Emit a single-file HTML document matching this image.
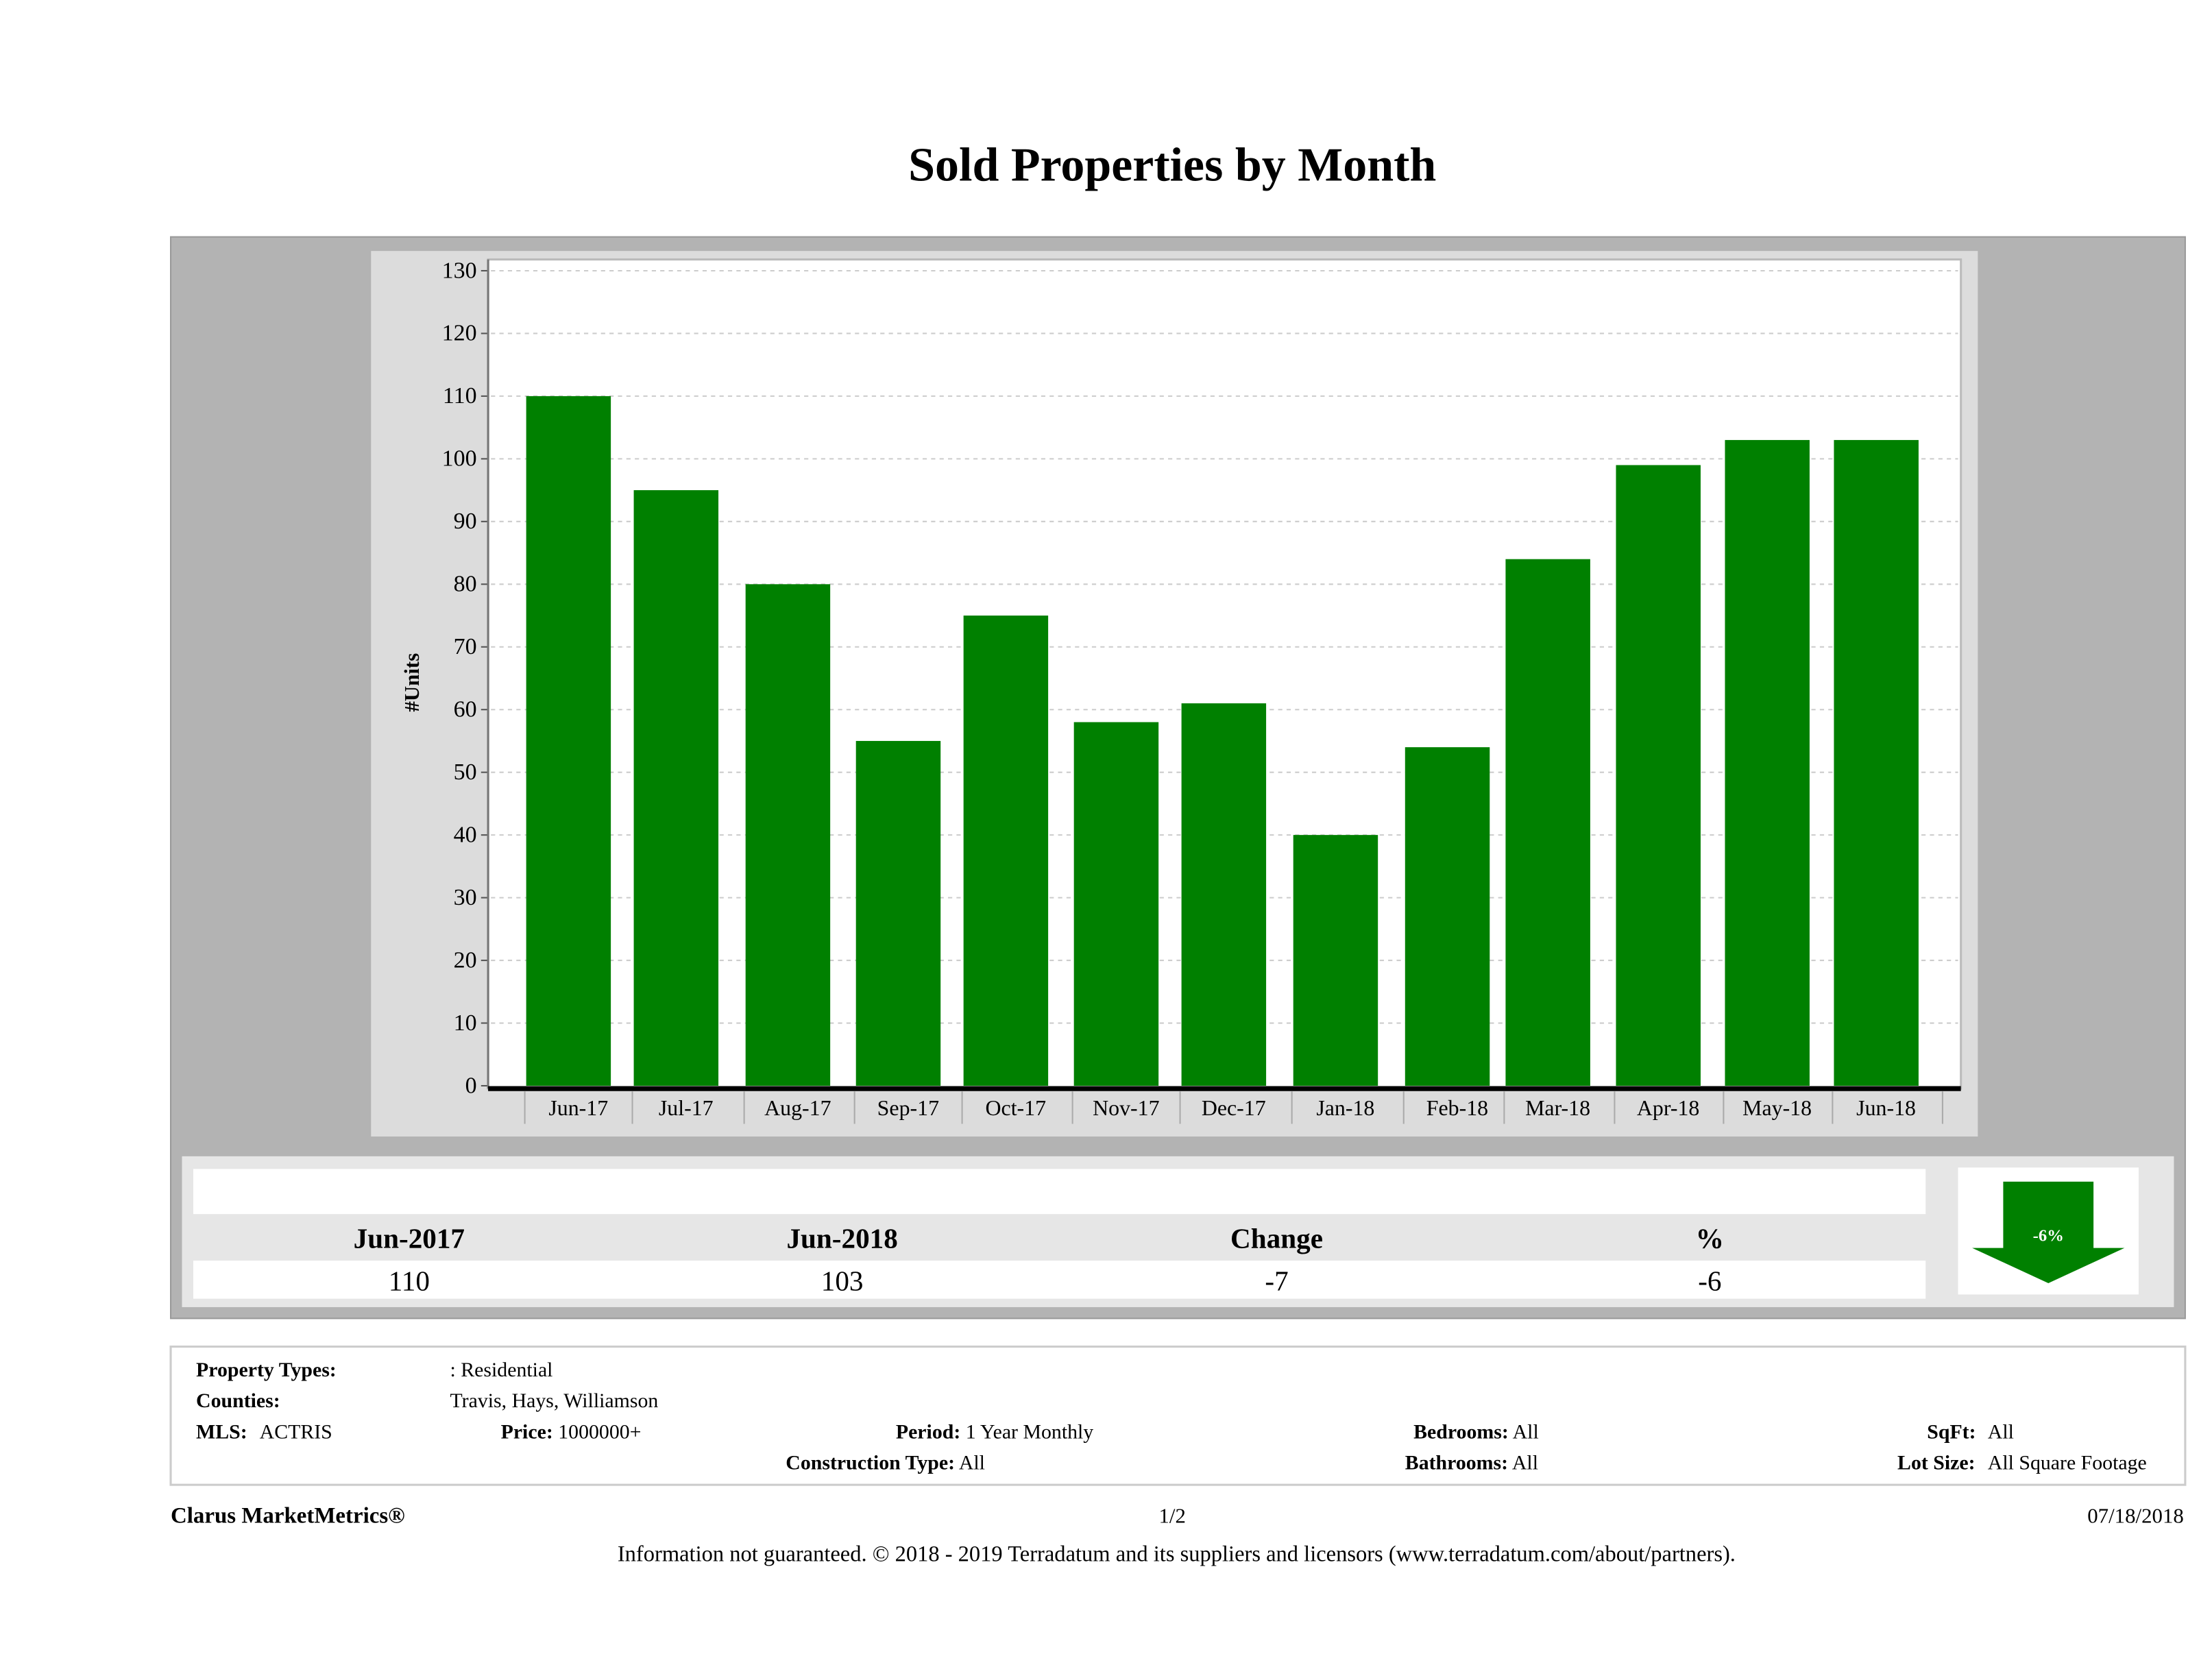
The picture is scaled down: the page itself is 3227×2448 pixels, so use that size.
<!DOCTYPE html>
<html><head><meta charset="utf-8"><style>
html,body{margin:0;padding:0;background:#fff}
svg{display:block}
text{font-family:"Liberation Serif",serif;fill:#000}
</style></head><body>
<svg id="chart" width="3227" height="2448" viewBox="0 0 1568 1190" preserveAspectRatio="none" xmlns="http://www.w3.org/2000/svg">
<text x="831" y="128" text-anchor="middle" font-size="34" font-weight="bold">Sold Properties by Month</text>
<rect x="121" y="168" width="1428" height="767" fill="#b3b3b3" stroke="#999" stroke-width="1"/>
<rect x="263" y="178" width="1139" height="628" fill="#dcdcdc"/>
<rect x="346" y="184" width="1044" height="588" fill="#fff" stroke="#bbb" stroke-width="1.5"/>
<g id="grid"></g>
<g id="bars"></g>
<g id="yaxis"></g>
<g id="xaxis"></g>
<text transform="translate(297,484) rotate(-90)" text-anchor="middle" font-size="15" font-weight="bold">#Units</text>

<rect x="129" y="820" width="1412" height="107" fill="#e6e6e6"/>
<rect x="137" y="829" width="1228" height="32" fill="#fff"/>
<rect x="137" y="894" width="1228" height="27" fill="#fff"/>
<g font-size="20">
<text x="290" y="885" text-anchor="middle" font-weight="bold">Jun-2017</text>
<text x="597" y="885" text-anchor="middle" font-weight="bold">Jun-2018</text>
<text x="905" y="885" text-anchor="middle" font-weight="bold">Change</text>
<text x="1212" y="885" text-anchor="middle" font-weight="bold">%</text>
<text x="290" y="915" text-anchor="middle">110</text>
<text x="597" y="915" text-anchor="middle">103</text>
<text x="905" y="915" text-anchor="middle">-7</text>
<text x="1212" y="915" text-anchor="middle">-6</text>
</g>
<rect x="1388" y="828" width="128" height="90" fill="#fff"/>
<polygon points="1420,838 1484,838 1484,885 1506,885 1452,910 1398,885 1420,885" fill="#008000"/>
<text x="1452" y="880" text-anchor="middle" font-size="12" font-weight="bold" style="fill:#fff">-6%</text>

<rect x="121" y="955" width="1428" height="98" fill="#fff" stroke="#ccc" stroke-width="1.5"/>
<g font-size="14.5">
<text x="139" y="976" font-weight="bold">Property Types:</text>
<text x="319" y="976">: Residential</text>
<text x="139" y="998" font-weight="bold">Counties:</text>
<text x="319" y="998">Travis, Hays, Williamson</text>
<text x="139" y="1020"><tspan font-weight="bold">MLS:</tspan><tspan x="184">ACTRIS</tspan></text>
<text x="355" y="1020"><tspan font-weight="bold">Price:</tspan> 1000000+</text>
<text x="635" y="1020"><tspan font-weight="bold">Period:</tspan> 1 Year Monthly</text>
<text x="557" y="1042"><tspan font-weight="bold">Construction Type:</tspan> All</text>
<text x="1002" y="1020"><tspan font-weight="bold">Bedrooms:</tspan> All</text>
<text x="996" y="1042"><tspan font-weight="bold">Bathrooms:</tspan> All</text>
<text x="1366" y="1020"><tspan font-weight="bold">SqFt:</tspan><tspan x="1409">All</tspan></text>
<text x="1345" y="1042"><tspan font-weight="bold">Lot Size:</tspan><tspan x="1409">All Square Footage</tspan></text>
</g>
<text x="121" y="1080" font-size="16" font-weight="bold">Clarus MarketMetrics®</text>
<text x="831" y="1080" font-size="15" text-anchor="middle">1/2</text>
<text x="1548" y="1080" font-size="15" text-anchor="end">07/18/2018</text>
<text x="834" y="1107" font-size="15.8" text-anchor="middle">Information not guaranteed. © 2018 - 2019 Terradatum and its suppliers and licensors (www.terradatum.com/about/partners).</text>
</svg>
<script>
const categories = ["Jun-17","Jul-17","Aug-17","Sep-17","Oct-17","Nov-17","Dec-17","Jan-18","Feb-18","Mar-18","Apr-18","May-18","Jun-18"];
const soldUnits = [110,95,80,55,75,58,61,40,54,84,99,103,103];
const yTicks = [0,10,20,30,40,50,60,70,80,90,100,110,120,130];
// small per-category layout nudge (pixels) to match source rendering
const slotNudge = [0,-1,1,2,1,2,1,3,5,-1,0,0,0];

const NS = "http://www.w3.org/2000/svg";
const yMin = 0, yMax = 130, yPix0 = 770, yPix1 = 192;
function yScale(v){ return yPix0 - (v - yMin) / (yMax - yMin) * (yPix0 - yPix1); }
const firstCenter = 403, step = 77.25;
function xScale(i){ return firstCenter + i * step + (slotNudge[i] || 0); }
function mk(tag, attrs, parent){ const e=document.createElementNS(NS,tag); for(const k in attrs) e.setAttribute(k,attrs[k]); parent.appendChild(e); return e; }

const grid = document.getElementById('grid'), bars = document.getElementById('bars'),
      yaxis = document.getElementById('yaxis'), xaxis = document.getElementById('xaxis');

yTicks.forEach(t => {
  const y = yScale(t);
  if (t > 0) {
    const g = mk('line',{x1:348,x2:1388,y1:y,y2:y,stroke:'#ccc','stroke-width':1,'stroke-dasharray':'3,3'},grid);
    
    
  }
  const tk = mk('line',{x1:341,x2:346,y1:y,y2:y,stroke:'#555','stroke-width':1},yaxis);
  
  
  const lb = mk('text',{x:338,y:y+5,'text-anchor':'end','font-size':16.5},yaxis);
  lb.textContent = t;
  
  
});
const yl = mk('line',{x1:346,x2:346,y1:184,y2:772,stroke:'#777','stroke-width':1.5},yaxis);



categories.forEach((c,i) => {
  const cx = xScale(i), v = soldUnits[i];
  const b = mk('rect',{x:cx-30,y:yScale(v),width:60,height:yScale(0)-yScale(v),fill:'#008000'},bars);
  
  
  const lb = mk('text',{x:cx+7,y:791,'text-anchor':'middle','font-size':15.5},xaxis);
  lb.textContent = c;
  
  
  const sep = mk('line',{x1:cx-31,x2:cx-31,y1:774,y2:797,stroke:'#aaa','stroke-width':1},xaxis);
  
  
});
const lastSep = mk('line',{x1:1377,x2:1377,y1:774,y2:797,stroke:'#aaa','stroke-width':1},xaxis);


const xl = mk('line',{x1:346,x2:1390,y1:772,y2:772,stroke:'#000','stroke-width':3.5},xaxis);


</script>
</body></html>
